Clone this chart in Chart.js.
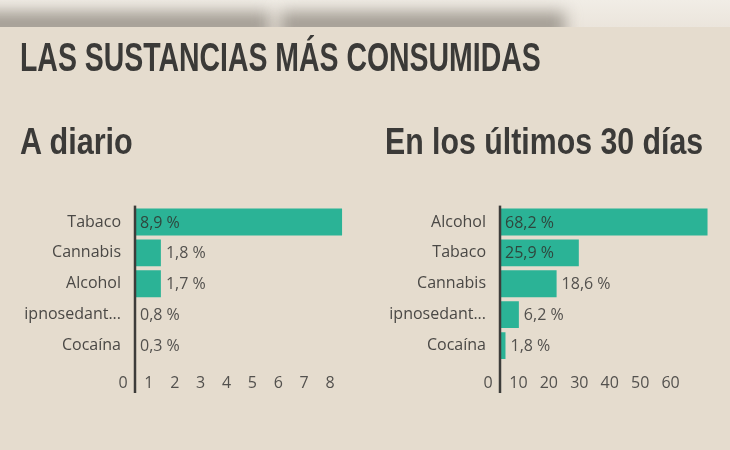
<!DOCTYPE html>
<html>
<head>
<meta charset="utf-8">
<script src="https://cdn.jsdelivr.net/npm/chart.js@4/dist/chart.umd.min.js"></script>
<style>
  html, body { margin: 0; padding: 0; }
  body { width: 730px; height: 450px; background: #e5dcce; position: relative; overflow: hidden; }
  #strip { position: absolute; left: 0; top: 0; width: 730px; height: 27px; overflow: hidden;
           background: linear-gradient(#f1ede6, #ebe5dc); }
  .blob { position: absolute; top: 12px; height: 26px; background: #a29c93; filter: blur(8px); }
  .head { position: absolute; left: 20px; font-family: "Liberation Sans Narrow", sans-serif; font-weight: bold;
          color: #3b3a38; white-space: nowrap; line-height: 1; transform-origin: left top; }
  canvas { position: absolute; }
</style>
</head>
<body>
<div id="strip">
  <div class="blob" style="left:-20px; width:290px"></div>
  <div class="blob" style="left:280px; width:285px"></div>
</div>
<div class="head" id="title" data-w="521" style="top:37px; font-size:40px">LAS SUSTANCIAS MÁS CONSUMIDAS</div>
<div class="head" id="sub1" data-w="113" style="top:124px; font-size:36px">A diario</div>
<div class="head" id="sub2" data-w="318" style="top:124px; font-size:36px; left:385px">En los últimos 30 días</div>

<canvas id="daily" width="365" height="218" style="left:0; top:183px"></canvas>
<canvas id="month" width="365" height="218" style="left:365px; top:183px"></canvas>

<script>
// A diario
const dailyLabels = ["Tabaco", "Cannabis", "Alcohol", "ipnosedant...", "Cocaína"];
const dailyValues = [8.9, 1.8, 1.7, 0.8, 0.3];
// bar lengths as they are drawn in the source picture (whole units only)
const dailyBars = [8, 1, 1, 0, 0];
const dailyTicks = [0, 1, 2, 3, 4, 5, 6, 7, 8];

// En los últimos 30 días
const monthLabels = ["Alcohol", "Tabaco", "Cannabis", "ipnosedant...", "Cocaína"];
const monthValues = [68.2, 25.9, 18.6, 6.2, 1.8];
const monthTicks = [0, 10, 20, 30, 40, 50, 60];

const FONT = "'Open Sans'";

// squeeze the headings to the width they have in the picture
document.querySelectorAll(".head").forEach(el => {
    let target = Number(el.dataset.w);
    el.style.transform = `scaleX(${target / el.offsetWidth})`;
});

function pct(v) {
    return v.toFixed(1).replace(".", ",") + " %";
}

function barExtras(texts) {
    return {
        id: "barExtras",
        afterDatasetsDraw(chart) {
            let ctx = chart.ctx;
            let area = chart.chartArea;
            let x0 = chart.scales.x.getPixelForValue(0);
            ctx.save();
            ctx.font = "16px " + FONT;
            ctx.textBaseline = "middle";
            chart.getDatasetMeta(0).data.forEach((bar, i) => {
                let t = texts[i];
                let w = ctx.measureText(t).width;
                let inside = bar.x - x0 >= w + 12;
                ctx.fillStyle = inside ? "#2f463d" : "#53514e";
                ctx.fillText(t, inside ? x0 + 5 : bar.x + 5, bar.y + 1);
            });
            // the dark axis line runs down through the tick row
            ctx.strokeStyle = "#3d3c3a";
            ctx.lineWidth = 2.5;
            ctx.beginPath();
            ctx.moveTo(x0, area.top - 1);
            ctx.lineTo(x0, area.bottom + 32);
            ctx.stroke();
            ctx.restore();
        }
    };
}

function createChart(id, labels, bars, texts, max, ticks, padRight) {
    return new Chart(document.getElementById(id), {
        type: "bar",
        data: {
            labels: labels,
            datasets: [{
                data: bars,
                backgroundColor: "#2bb396",
                borderWidth: 0,
                barPercentage: 0.87,
                categoryPercentage: 1
            }]
        },
        options: {
            indexAxis: "y",
            responsive: false,
            animation: false,
            layout: { padding: { top: 11, right: padRight, bottom: 0, left: 0 } },
            plugins: {
                legend: { display: false },
                tooltip: { enabled: false }
            },
            scales: {
                y: {
                    grid: { display: false, drawTicks: false },
                    border: { display: false },
                    ticks: { color: "#4a4845", font: { family: FONT, size: 16 }, padding: 14 },
                    afterFit: s => { s.width = 135; }
                },
                x: {
                    min: 0,
                    max: max,
                    grid: { display: false, drawTicks: false },
                    border: { display: false },
                    ticks: { color: "#53514e", font: { family: FONT, size: 16 }, padding: 13, labelOffset: -12 },
                    afterBuildTicks: s => { s.ticks = ticks.map(v => ({ value: v })); },
                    afterFit: s => { s.height = 40; }
                }
            }
        },
        plugins: [barExtras(texts)]
    });
}

createChart("daily", dailyLabels, dailyBars, dailyValues.map(pct), 8.5, dailyTicks, 10);
createChart("month", monthLabels, monthValues, monthValues.map(pct), 70, monthTicks, 17);
</script>
</body>
</html>
